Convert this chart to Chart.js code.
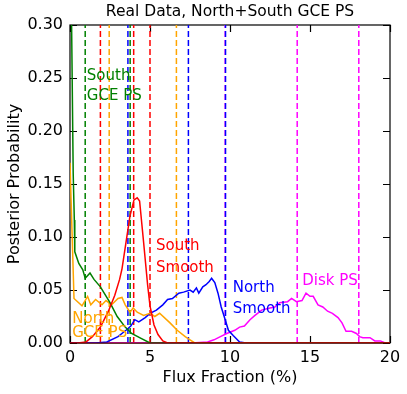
<!DOCTYPE html>
<html>
<head>
<meta charset="utf-8">
<script src="https://cdn.jsdelivr.net/npm/chart.js@4"></script>
<style>
  html, body { margin: 0; padding: 0; background: #fff; }
</style>
</head>
<body>
<canvas id="myChart" width="407" height="394"></canvas>
<script>
// flux fraction (%) and posterior probability
var southGceX = [0, 0.1, 0.2, 0.27, 0.3, 0.55, 0.8, 0.95, 1.25, 1.5, 1.9, 2.5, 2.95, 3.45, 3.85, 4.35, 5.0, 20]
var southGceY = [0.5, 0.3, 0.16, 0.116, 0.086, 0.075, 0.069, 0.061, 0.066, 0.06, 0.053, 0.038, 0.025, 0.015, 0.009, 0.005, 0, 0]

var northGceX = [0, 0.25, 0.75, 1.1, 1.3, 1.6, 2.0, 2.25, 2.6, 3.0, 3.25, 3.45, 3.75, 3.95, 4.2, 4.6, 5.0, 5.3, 5.6, 6.25, 6.7, 7.2, 7.5, 7.8, 20]
var northGceY = [0.17, 0.042, 0.035, 0.044, 0.036, 0.041, 0.036, 0.04, 0.036, 0.042, 0.043, 0.036, 0.029, 0.033, 0.029, 0.026, 0.028, 0.025, 0.028, 0.019, 0.012, 0.006, 0.003, 0, 0]

var southSmoothX = [0, 0.5, 1.0, 1.4, 1.9, 2.4, 2.8, 3.1, 3.25, 3.5, 3.75, 4.0, 4.2, 4.35, 4.6, 4.85, 5.0, 5.25, 5.5, 5.8, 6.1, 20]
var southSmoothY = [0, 0, 0.001, 0.006, 0.015, 0.03, 0.045, 0.06, 0.07, 0.095, 0.12, 0.135, 0.137, 0.134, 0.095, 0.055, 0.035, 0.017, 0.008, 0.002, 0, 0]

var northSmoothX = [0, 1.6, 2.3, 3.0, 3.5, 3.8, 4.05, 4.3, 4.7, 5.0, 5.4, 5.8, 6.1, 6.4, 6.8, 7.1, 7.5, 7.7, 7.9, 8.05, 8.3, 8.5, 8.7, 8.85, 9.05, 9.25, 9.45, 9.7, 9.9, 10.2, 10.6, 11, 20]
var northSmoothY = [0, 0, 0.001, 0.006, 0.012, 0.016, 0.022, 0.02, 0.024, 0.028, 0.031, 0.036, 0.041, 0.042, 0.047, 0.048, 0.05, 0.048, 0.052, 0.047, 0.053, 0.055, 0.058, 0.061, 0.057, 0.047, 0.034, 0.022, 0.012, 0.007, 0.001, 0, 0]

var diskX = [0, 7.6, 8.6, 9.0, 9.4, 9.8, 10.3, 10.6, 10.9, 11.25, 11.56, 11.98, 12.5, 12.8, 13.1, 13.6, 13.85, 14.15, 14.5, 14.75, 15.0, 15.2, 15.5, 15.8, 16.1, 16.4, 16.75, 17.0, 17.25, 17.6, 17.9, 18.1, 18.3, 18.75, 19.05, 19.4, 19.7, 20]
var diskY = [0, 0, 0.001, 0.003, 0.006, 0.009, 0.012, 0.015, 0.016, 0.022, 0.026, 0.031, 0.033, 0.034, 0.038, 0.039, 0.042, 0.039, 0.04, 0.047, 0.044, 0.044, 0.036, 0.034, 0.03, 0.028, 0.024, 0.019, 0.011, 0.011, 0.009, 0.006, 0.005, 0.005, 0.002, 0.002, 0, 0]

// dashed vertical marks (flux fraction, %)
var southGceMarks = [0.95, 3.76]
var northGceMarks = [2.45, 6.65]
var southSmoothMarks = [1.9, 3.98, 5.0]
var northSmoothMarks = [3.62, 7.4, 9.72]
var diskMarks = [9.7, 14.2, 18.05]

var xTicks = [0, 5, 10, 15, 20]
var yTicks = [0, 0.05, 0.1, 0.15, 0.2, 0.25, 0.3]

var curves = [
  { name: 'Disk PS', color: '#ff00ff', xs: diskX, ys: diskY, marks: diskMarks, order: 5, markOrder: 16 },
  { name: 'North Smooth', color: '#0000ff', xs: northSmoothX, ys: northSmoothY, marks: northSmoothMarks, order: 4, markOrder: 11 },
  { name: 'North GCE PS', color: '#ffa500', xs: northGceX, ys: northGceY, marks: northGceMarks, order: 3, markOrder: 13 },
  { name: 'South GCE PS', color: '#008000', xs: southGceX, ys: southGceY, marks: southGceMarks, order: 2, markOrder: 14 },
  { name: 'South Smooth', color: '#ff0000', xs: southSmoothX, ys: southSmoothY, marks: southSmoothMarks, order: 1, markOrder: 12 }
]

// text placed on the plot, anchored in data coordinates
var notes = [
  { text: 'South', color: '#008000', x: 1.05, y: 0.248 },
  { text: 'GCE PS', color: '#008000', x: 1.05, y: 0.229 },
  { text: 'South', color: '#ff0000', x: 5.375, y: 0.0877 },
  { text: 'Smooth', color: '#ff0000', x: 5.375, y: 0.067 },
  { text: 'North', color: '#0000ff', x: 10.17, y: 0.0481 },
  { text: 'Smooth', color: '#0000ff', x: 10.17, y: 0.0283 },
  { text: 'Disk PS', color: '#ff00ff', x: 14.52, y: 0.0547 },
  { text: 'North', color: '#ffa500', x: 0.14, y: 0.0189 },
  { text: 'GCE PS', color: '#ffa500', x: 0.14, y: 0.0052 }
]

var font = '"DejaVu Sans", sans-serif'

var datasets = []
curves.forEach(function (c) {
  c.marks.forEach(function (m) {
    datasets.push({
      data: [{ x: m, y: 0 }, { x: m, y: 0.3 }],
      borderColor: c.color,
      borderWidth: 1.5,
      borderDash: [6, 3],
      pointRadius: 0,
      order: c.markOrder
    })
  })
  datasets.push({
    label: c.name,
    data: c.xs.map(function (x, i) { return { x: x, y: c.ys[i] } }),
    borderColor: c.color,
    borderWidth: 1.5,
    pointRadius: 0,
    tension: 0,
    order: c.order
  })
})

var frameAndText = {
  id: 'frameAndText',
  beforeDatasetsDraw(chart) {
    var ctx = chart.ctx
    var a = chart.chartArea
    var xs = chart.scales.x, ys = chart.scales.y
    ctx.save()
    ctx.strokeStyle = '#000'
    ctx.lineWidth = 1.2
    ctx.strokeRect(a.left, a.top, a.right - a.left, a.bottom - a.top)
    var len = 7
    ctx.beginPath()
    xTicks.forEach(function (t) {
      var px = Math.round(xs.getPixelForValue(t)) + 0.5
      ctx.moveTo(px, a.bottom); ctx.lineTo(px, a.bottom - len)
      ctx.moveTo(px, a.top); ctx.lineTo(px, a.top + len)
    })
    yTicks.forEach(function (t) {
      var py = Math.round(ys.getPixelForValue(t)) + 0.5
      ctx.moveTo(a.left, py); ctx.lineTo(a.left + len, py)
      ctx.moveTo(a.right, py); ctx.lineTo(a.right - len, py)
    })
    ctx.stroke()
    ctx.restore()
  },
  afterDatasetsDraw(chart) {
    var ctx = chart.ctx
    var a = chart.chartArea
    var xs = chart.scales.x, ys = chart.scales.y
    ctx.save()
    // zero line where the curves overlap the bottom axis
    ctx.strokeStyle = '#6a0000'
    ctx.lineWidth = 1.2
    ctx.beginPath()
    ctx.moveTo(a.left, a.bottom)
    ctx.lineTo(a.right, a.bottom)
    ctx.stroke()
    ctx.font = '15px ' + font
    ctx.textBaseline = 'alphabetic'
    ctx.textAlign = 'left'
    notes.forEach(function (n) {
      ctx.fillStyle = n.color
      ctx.fillText(n.text, xs.getPixelForValue(n.x), ys.getPixelForValue(n.y))
    })
    ctx.fillStyle = '#000'
    ctx.textAlign = 'center'
    ctx.textBaseline = 'middle'
    ctx.font = '15.5px ' + font
    ctx.fillText('Real Data, North+South GCE PS', (a.left + a.right) / 2, 12)
    ctx.restore()
  }
}

var ctx = document.getElementById('myChart').getContext('2d')
var chart = new Chart(ctx, {
  type: 'line',
  data: { datasets: datasets },
  options: {
    responsive: false,
    animation: false,
    events: [],
    layout: { padding: { top: 25, right: 17, bottom: 6.4, left: 5.4 } },
    plugins: {
      legend: { display: false },
      title: { display: false },
      tooltip: { enabled: false }
    },
    scales: {
      x: {
        type: 'linear',
        min: 0,
        max: 20,
        grid: { display: false, drawTicks: false },
        border: { display: false },
        afterBuildTicks: function (scale) { scale.ticks = xTicks.map(function (v) { return { value: v } }) },
        afterFit: function (scale) { scale.height = 44.6 },
        ticks: {
          padding: 5,
          color: '#000',
          font: { family: font, size: 16 },
          maxRotation: 0,
          callback: function (v) { return String(v) }
        },
        title: {
          display: true,
          text: 'Flux Fraction (%)',
          color: '#000',
          font: { family: font, size: 16 },
          padding: 0
        }
      },
      y: {
        min: 0,
        max: 0.3,
        grid: { display: false, drawTicks: false },
        border: { display: false },
        afterBuildTicks: function (scale) { scale.ticks = yTicks.map(function (v) { return { value: v } }) },
        afterFit: function (scale) { scale.width = 64.6 },
        ticks: {
          padding: 7,
          color: '#000',
          font: { family: font, size: 16 },
          callback: function (v) { return v.toFixed(2) }
        },
        title: {
          display: true,
          text: 'Posterior Probability',
          color: '#000',
          font: { family: font, size: 16 },
          padding: 0
        }
      }
    }
  },
  plugins: [frameAndText]
})
</script>
</body>
</html>
